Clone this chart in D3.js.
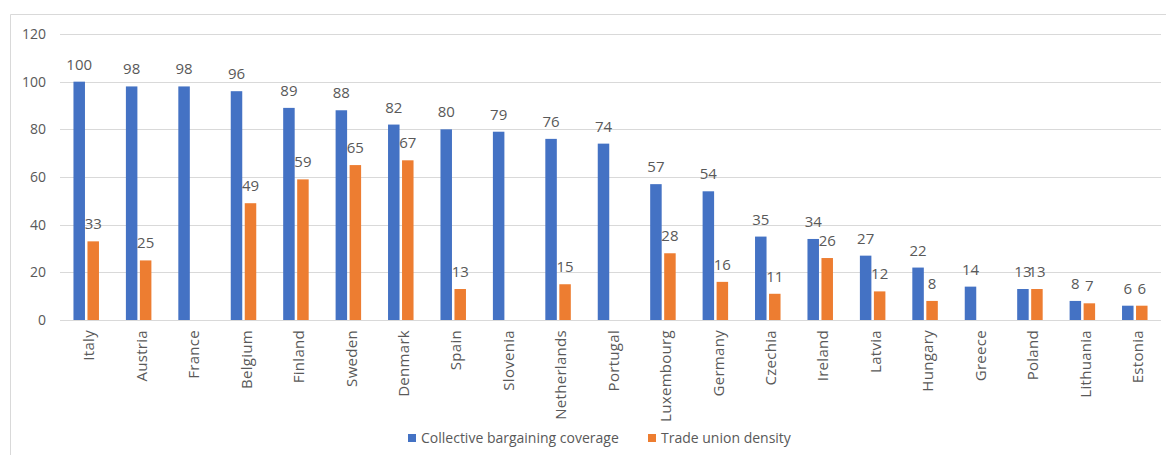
<!DOCTYPE html>
<html>
<head>
<meta charset="utf-8">
<script src="https://cdn.jsdelivr.net/npm/d3@7"></script>
<style>
  html, body { margin: 0; padding: 0; background: #fff; }
  svg { display: block; font-family: "Open Sans", "Noto Sans", sans-serif; }
</style>
</head>
<body>
<svg id="chart" width="1166" height="455"></svg>
<script>
// Countries, ordered by collective bargaining coverage (%)
const countries = ["Italy", "Austria", "France", "Belgium", "Finland", "Sweden", "Denmark",
  "Spain", "Slovenia", "Netherlands", "Portugal", "Luxembourg", "Germany", "Czechia",
  "Ireland", "Latvia", "Hungary", "Greece", "Poland", "Lithuania", "Estonia"];
const coverage = [100, 98, 98, 96, 89, 88, 82, 80, 79, 76, 74, 57, 54, 35, 34, 27, 22, 14, 13, 8, 6];
const density  = [33, 25, null, 49, 59, 65, 67, 13, null, 15, null, 28, 16, 11, 26, 12, 8, null, 13, 7, 6];
const seriesNames = ["Collective bargaining coverage", "Trade union density"];
const yTicks = [0, 20, 40, 60, 80, 100, 120];

const colors = ["#4472C4", "#ED7D31"];
const textColor = "#595959";
const gridColor = "#D9D9D9";

const svg = d3.select("#chart");
const W = 1166, H = 455;

// Outer frame (top and left edges visible)
svg.append("path")
  .attr("d", `M10.5,${H} V14.5 H${W}`)
  .attr("fill", "none").attr("stroke", gridColor).attr("stroke-width", 1);

const x = d3.scaleBand().domain(countries).range([60, 1161]).paddingInner(0).paddingOuter(0);
const y = d3.scaleLinear().domain([0, 120]).range([320, 34]);

const barW = 11.5, gap = 2.5;
const sub = d3.scaleOrdinal().domain([0, 1]).range([-(gap / 2 + barW), gap / 2]);

// Gridlines
svg.append("g").selectAll("line").data(yTicks).join("line")
  .attr("x1", 60).attr("x2", 1161)
  .attr("y1", d => Math.round(y(d)) + 0.5).attr("y2", d => Math.round(y(d)) + 0.5)
  .attr("stroke", gridColor).attr("stroke-width", 1);

// Y axis tick labels
svg.append("g").selectAll("text").data(yTicks).join("text")
  .attr("x", 46).attr("y", d => y(d))
  .attr("dy", "0.35em").attr("text-anchor", "end")
  .attr("fill", textColor).attr("font-size", 14)
  .text(d => d);

// Bars with value labels
const series = [coverage, density];
series.forEach((vals, si) => {
  const data = countries.map((c, i) => ({ c, v: vals[i] })).filter(d => d.v != null);
  const g = svg.append("g");
  g.selectAll("rect").data(data).join("rect")
    .attr("x", d => x(d.c) + x.bandwidth() / 2 + sub(si))
    .attr("y", d => y(d.v))
    .attr("width", barW)
    .attr("height", d => y(0) - y(d.v))
    .attr("fill", colors[si]);
  g.selectAll("text").data(data).join("text")
    .attr("x", d => x(d.c) + x.bandwidth() / 2 + sub(si) + barW / 2)
    .attr("y", d => y(d.v) - 12)
    .attr("text-anchor", "middle")
    .attr("fill", textColor).attr("font-size", 15)
    .text(d => d.v);
});

// Category labels, rotated
svg.append("g").selectAll("text").data(countries).join("text")
  .attr("transform", d => `translate(${x(d) + x.bandwidth() / 2 + 3},330) rotate(-90)`)
  .attr("text-anchor", "end").attr("dy", "0.35em")
  .attr("fill", textColor).attr("font-size", 15)
  .attr("letter-spacing", 0.3)
  .text(d => d);

// Legend
const legend = svg.append("g").attr("transform", "translate(408,438)");
const legendX = [0, 240];
seriesNames.forEach((name, i) => {
  legend.append("rect").attr("x", legendX[i]).attr("y", -4).attr("width", 8).attr("height", 8).attr("fill", colors[i]);
  legend.append("text").attr("x", legendX[i] + 13).attr("y", 0).attr("dy", "0.35em")
    .attr("fill", textColor).attr("font-size", 14).text(name);
});
</script>
</body>
</html>
